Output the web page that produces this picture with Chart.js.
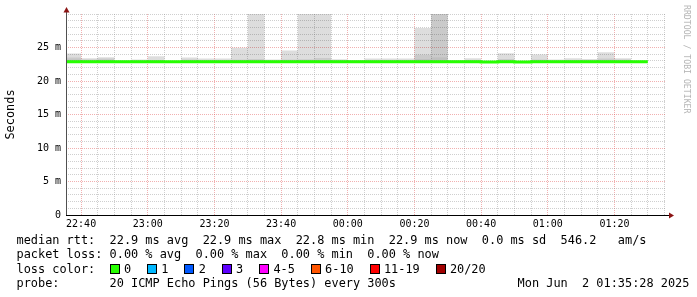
<!DOCTYPE html>
<html lang="en">
<head>
<meta charset="UTF-8">
<title>Smokeping latency</title>
<script src="https://cdn.jsdelivr.net/npm/chart.js@4"></script>
<style>
  body { margin: 0; background: #fff; }
  .wrap { position: relative; width: 697px; height: 297px; overflow: hidden; }
  canvas { position: absolute; left: 0; top: 0; }
  .legend {
    position: absolute; left: 16.5px;
    font-family: 'DejaVu Sans Mono', monospace; font-size: 11.9px; line-height: 14px;
    white-space: pre; color: #000;
  }
  .box { display: inline-block; width: 8px; height: 8px; border: 1px solid #000; vertical-align: -1px; margin-right: 4.4px; }
  .lbl { display: inline-block; margin-right: 15.8px; }
  .stamp {
    position: absolute; left: 692px; top: 5px; transform-origin: left top; transform: rotate(90deg);
    font-family: 'DejaVu Sans Mono', monospace; font-size: 8.2px; line-height: 10px;
    white-space: pre; color: #b4b4b4;
  }
</style>
</head>
<body>
<div class="wrap">
  <canvas id="chart" width="697" height="297"></canvas>
  <div class="stamp">RRDTOOL / TOBI OETIKER</div>
  <div class="legend" style="top:233px">median rtt:  22.9 ms avg  22.9 ms max  22.8 ms min  22.9 ms now  0.0 ms sd  546.2   am/s</div>
  <div class="legend" style="top:247.3px">packet loss: 0.00 % avg  0.00 % max  0.00 % min  0.00 % now</div>
  <div class="legend" id="lossRow" style="top:261.6px">loss color:  </div>
  <div class="legend" style="top:275.9px">probe:       20 ICMP Echo Pings (56 Bytes) every 300s                 Mon Jun  2 01:35:28 2025</div>
</div>
<script>
// 5 minute buckets (start time of each step)
const bucketStart = [
  '22:35', '22:40', '22:45', '22:50', '22:55', '23:00', '23:05', '23:10', '23:15', '23:20',
  '23:25', '23:30', '23:35', '23:40', '23:45', '23:50', '23:55', '00:00', '00:05', '00:10',
  '00:15', '00:20', '00:25', '00:30', '00:35', '00:40', '00:45', '00:50', '00:55', '01:00',
  '01:05', '01:10', '01:15', '01:20', '01:25'
];
// median rtt in ms
const medianRtt = [
  22.88, 22.88, 22.88, 22.86, 22.88, 22.88, 22.86, 22.88, 22.88, 22.88,
  22.88, 22.88, 22.88, 22.88, 22.88, 22.88, 22.88, 22.86, 22.88, 22.88,
  22.88, 22.88, 22.88, 22.86, 22.88, 22.82, 22.88, 22.84, 22.88, 22.86,
  22.88, 22.88, 22.88, 22.88, 22.86
];
// smoke: top of outer (lightest), middle and inner (darkest) ping bands, ms
const smokeOuter = [
  24.1, 23.4, 23.55, 23.05, 23.2, 23.7, 23.0, 23.5, 23.35, 23.35,
  24.95, 31, 23.2, 24.55, 31, 31, 23.25, 23.15, 23.35, 23.35,
  23.35, 27.9, 31, 23.15, 23.4, 23.0, 24.15, 22.95, 23.95, 23.2,
  23.4, 23.3, 24.3, 23.4, 23.05
];
const smokeMid = [
  23.5, 23.2, 23.35, 23.0, 23.05, 23.15, 22.95, 23.2, 23.1, 23.1,
  23.2, 23.3, 23.05, 23.2, 23.25, 23.45, 23.1, 23.05, 23.1, 23.1,
  23.1, 23.9, 31, 23.0, 23.15, 22.95, 23.3, 22.9, 23.2, 23.05,
  23.15, 23.15, 23.35, 23.2, 23.0
];
const smokeInner = [
  23.2, 23.0, 23.1, 22.95, 23.0, 23.0, 22.9, 23.0, 23.0, 23.0,
  23.05, 23.1, 23.0, 23.05, 23.1, 23.15, 23.0, 22.95, 23.0, 23.0,
  23.0, 23.3, 23.55, 22.95, 23.0, 22.9, 23.05, 22.85, 23.05, 23.0,
  23.0, 23.0, 23.1, 23.0, 22.95
];
const viewStart = '22:35:28';
const viewEnd = '01:35:28';
const xTickLabels = ['22:40', '23:00', '23:20', '23:40', '00:00', '00:20', '00:40', '01:00', '01:20'];
const yTickLabels = ['0', '5 m', '10 m', '15 m', '20 m', '25 m'];
const lossLabels = ['0', '1', '2', '3', '4-5', '6-10', '11-19', '20/20'];
const lossColors = ['#26ff00', '#00b8ff', '#0059ff', '#5e00ff', '#ff00ff', '#ff5500', '#ff0000', '#a10000'];

// minutes counted from 22:00
function toMin(t) {
  const p = t.split(':').map(Number);
  return ((p[0] - 22 + 24) % 24) * 60 + p[1] + (p[2] || 0) / 60;
}
function fmt(v) {
  const total = (22 * 60 + Math.round(v)) % 1440;
  return String(Math.floor(total / 60)).padStart(2, '0') + ':' + String(total % 60).padStart(2, '0');
}
function steps(values) {
  const pts = bucketStart.map((t, i) => ({ x: toMin(t), y: values[i] }));
  pts.push({ x: toMin(bucketStart[bucketStart.length - 1]) + 5, y: values[values.length - 1] });
  return pts;
}

const xMajor = xTickLabels.map(toMin);
const xGrid = [];
for (let v = Math.ceil(toMin(viewStart) / 5) * 5; v <= toMin(viewEnd); v += 5) xGrid.push(v);
const yGrid = [];
for (let v = 0; v <= 30; v++) yGrid.push(v);

const minorGrid = 'rgba(140,140,140,0.42)';
const majorGrid = 'rgba(225,80,80,0.45)';

// axis lines with the little red arrows
const axisArrows = {
  id: 'axisArrows',
  afterDraw(chart) {
    const { ctx, chartArea: { left, right, top, bottom } } = chart;
    ctx.save();
    ctx.lineWidth = 1;
    ctx.strokeStyle = '#505050';
    ctx.beginPath(); ctx.moveTo(left + 0.5, bottom); ctx.lineTo(left + 0.5, top - 3); ctx.stroke();
    ctx.strokeStyle = '#000';
    ctx.beginPath(); ctx.moveTo(left, bottom + 0.5); ctx.lineTo(right + 4, bottom + 0.5); ctx.stroke();
    ctx.fillStyle = '#8b1414';
    ctx.beginPath();
    ctx.moveTo(left + 0.5, top - 7); ctx.lineTo(left - 2.5, top - 1.5); ctx.lineTo(left + 3.5, top - 1.5);
    ctx.closePath(); ctx.fill();
    ctx.beginPath();
    ctx.moveTo(right + 8, bottom + 0.5); ctx.lineTo(right + 3, bottom - 2.5); ctx.lineTo(right + 3, bottom + 3.5);
    ctx.closePath(); ctx.fill();
    ctx.restore();
  }
};

const mono = 'DejaVu Sans Mono';

new Chart(document.getElementById('chart'), {
  type: 'line',
  data: {
    datasets: [
      { label: 'median rtt', data: steps(medianRtt), borderColor: '#26ff00', borderWidth: 3,
        stepped: true, pointRadius: 0, fill: false, clip: { left: 0, top: 3, right: 3, bottom: 3 } },
      { label: 'inner', data: steps(smokeInner), borderWidth: 0, stepped: true, pointRadius: 0,
        backgroundColor: 'rgba(0,0,0,0.055)', fill: { value: 22.8 } },
      { label: 'mid', data: steps(smokeMid), borderWidth: 0, stepped: true, pointRadius: 0,
        backgroundColor: 'rgba(0,0,0,0.09)', fill: { value: 22.8 } },
      { label: 'outer', data: steps(smokeOuter), borderWidth: 0, stepped: true, pointRadius: 0,
        backgroundColor: 'rgba(0,0,0,0.133)', fill: { value: 22.8 } }
    ]
  },
  options: {
    responsive: false,
    animation: false,
    layout: { padding: { left: 0, right: 31, top: 14, bottom: 0 } },
    plugins: { legend: { display: false }, tooltip: { enabled: false } },
    scales: {
      x: {
        type: 'linear',
        min: toMin(viewStart),
        max: toMin(viewEnd),
        afterBuildTicks: s => { s.ticks = xGrid.map(v => ({ value: v })); },
        afterFit: s => { s.height = 82; },
        ticks: {
          autoSkip: false, maxRotation: 0, padding: 3, color: '#000',
          font: { family: mono, size: 10 },
          callback: v => xMajor.indexOf(v) >= 0 ? fmt(v) : ''
        },
        grid: {
          drawTicks: false, lineWidth: 1,
          color: c => xMajor.indexOf(c.tick.value) >= 0 ? majorGrid : minorGrid
        },
        border: { display: false, dash: [1, 1] }
      },
      y: {
        min: 0,
        max: 30,
        afterBuildTicks: s => { s.ticks = yGrid.map(v => ({ value: v })); },
        afterFit: s => { s.width = 66; },
        ticks: {
          autoSkip: false, padding: 5, color: '#000',
          font: { family: mono, size: 10 },
          callback: v => (v % 5 === 0 && v / 5 < yTickLabels.length) ? yTickLabels[v / 5] : ''
        },
        grid: {
          drawTicks: false, lineWidth: 1,
          color: c => c.tick.value === 0 ? 'rgba(0,0,0,0)' :
            (c.tick.value % 5 === 0 && c.tick.value < 30 ? majorGrid : minorGrid)
        },
        border: { display: false, dash: [1, 1] },
        title: {
          display: true, text: 'Seconds', color: '#000',
          font: { family: mono, size: 11.9 }, padding: { top: 3.5, bottom: 0 }
        }
      }
    }
  },
  plugins: [axisArrows]
});

// loss colour legend row
const row = document.getElementById('lossRow');
lossLabels.forEach((l, i) => {
  const b = document.createElement('span');
  b.className = 'box';
  b.style.background = lossColors[i];
  const t = document.createElement('span');
  t.className = 'lbl';
  t.textContent = l;
  row.appendChild(b);
  row.appendChild(t);
});
</script>
</body>
</html>
